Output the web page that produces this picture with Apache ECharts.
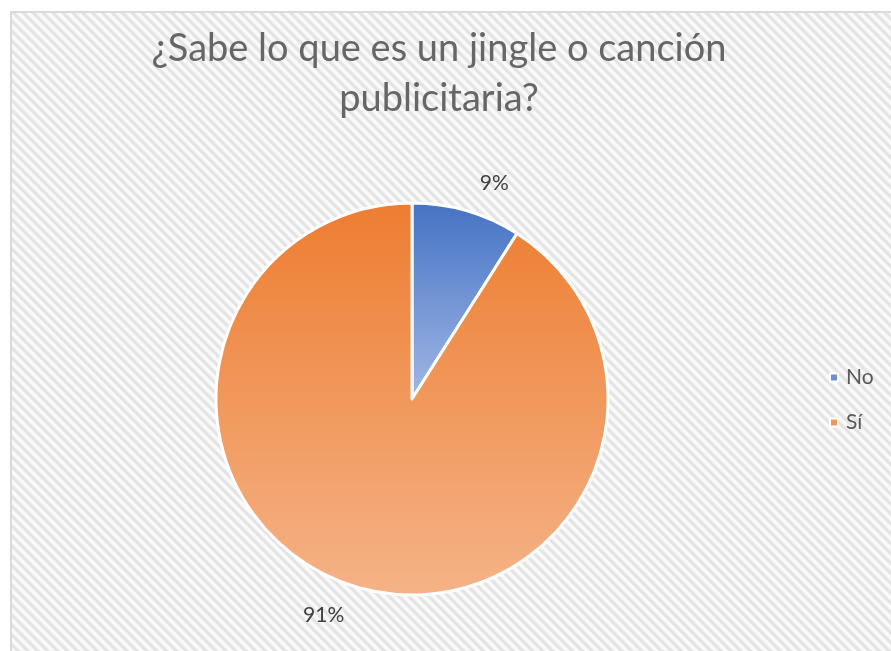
<!DOCTYPE html>
<html>
<head>
<meta charset="utf-8">
<script src="https://cdn.jsdelivr.net/npm/echarts@6/dist/echarts.min.js"></script>
<style>
  html, body { margin: 0; padding: 0; background: #ffffff; }
  #bg {
    position: absolute; left: 10px; top: 11px; width: 890px; height: 650px;
    box-sizing: border-box;
    border-left: 2px solid #dadada; border-top: 2px solid #dadada;
    background: repeating-linear-gradient(45deg, #fafafa 0px, #fafafa 2px, #e3e3e3 3.5px, #e3e3e3 5px, #fafafa 7px);
  }
  #main { position: absolute; left: 0; top: 0; width: 891px; height: 651px; }
</style>
</head>
<body>
<div id="bg"></div>
<div id="main"></div>
<script>
const titleText = '¿Sabe lo que es un jingle o canción\npublicitaria?';
const categories = ['No', 'Sí'];
const values = [9, 91];
const labelsText = ['9%', '91%'];

const chart = echarts.init(document.getElementById('main'), null, { renderer: 'canvas' });

const grads = [
  new echarts.graphic.LinearGradient(0, 0, 0, 1, [
    { offset: 0, color: '#4472C4' }, { offset: 1, color: '#A2B8E5' }
  ]),
  new echarts.graphic.LinearGradient(0, 0, 0, 1, [
    { offset: 0, color: '#ED7D31' }, { offset: 1, color: '#F5B387' }
  ])
];
const legendColors = ['#6C8FD3', '#F0995A'];

chart.setOption({
  backgroundColor: 'transparent',
  animation: false,
  title: {
    text: titleText,
    left: 434, top: 19, textAlign: 'center',
    textStyle: { fontFamily: 'Lato', fontSize: 38, fontWeight: 'normal', color: '#666666', lineHeight: 50 }
  },
  legend: {
    orient: 'vertical', left: 824, top: 362,
    itemWidth: 8, itemHeight: 8, itemGap: 24, icon: 'rect',
    textStyle: { fontFamily: 'Lato', fontSize: 21, color: '#595959', padding: [0, 0, 0, 3] },
    data: categories.map((c, i) => ({ name: c, itemStyle: { color: legendColors[i] } }))
  },
  series: [{
    type: 'pie',
    center: [412, 399], radius: 196,
    startAngle: 90, clockwise: true,
    label: {
      show: true, position: 'outside',
      fontFamily: 'Lato', fontSize: 21, color: '#404040',
      formatter: p => labelsText[p.dataIndex]
    },
    labelLine: { show: false, length: 29, length2: 0 },
    itemStyle: { borderColor: '#ffffff', borderWidth: 3 },
    data: categories.map((c, i) => ({ name: c, value: values[i], itemStyle: { color: grads[i] } }))
  }]
});
</script>
</body>
</html>
